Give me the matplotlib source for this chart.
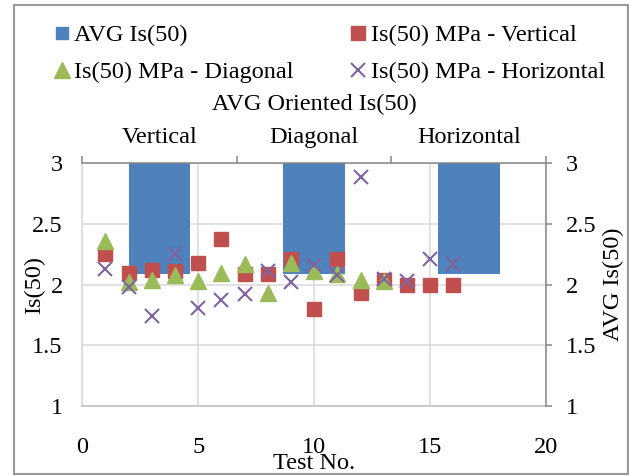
import matplotlib.pyplot as plt
from matplotlib.lines import Line2D
from matplotlib.patches import Rectangle

plt.rcParams['font.family'] = ['Liberation Serif', 'DejaVu Serif']
plt.rcParams['font.size'] = 17.5

# data
test_v = list(range(1, 17))
is50_vertical = [2.25, 2.10, 2.12, 2.11, 2.18, 2.38, 2.085, 2.085,
                 2.21, 1.80, 2.21, 1.93, 2.04, 2.00, 2.00, 2.00]
test_d = list(range(1, 14))
is50_diagonal = [2.36, 2.02, 2.04, 2.08, 2.03, 2.10, 2.17, 1.93,
                 2.18, 2.11, 2.085, 2.04, 2.03]
test_h = list(range(1, 17))
is50_horizontal = [2.13, 1.98, 1.74, 2.25, 1.81, 1.87, 1.92, 2.11,
                   2.02, 2.16, 2.08, 2.89, 2.05, 2.03, 2.21, 2.17]
orientations = ["Vertical", "Diagonal", "Horizontal"]
avg_is50 = [2.09, 2.09, 2.09]

x_ticks = [0, 5, 10, 15, 20]
y_ticks = [1, 1.5, 2, 2.5, 3]
y_ticklabels = ["1", "1.5", "2", "2.5", "3"]

BLUE = "#4F81BD"
RED = "#C0504D"
GREEN = "#9BBB59"
PURPLE = "#8064A2"
GRID = "#d9d9d9"
AXIS = "#868686"

W, H = 629, 476
fig = plt.figure(figsize=(W / 100, H / 100), dpi=100)
pos = [82.3 / W, 1 - 406 / H, (546 - 82.3) / W, (406 - 163.3) / H]

# bottom layer: primary axes with grid
ax = fig.add_axes(pos, zorder=0)
ax.set_xlim(0, 20)
ax.set_ylim(1, 3)
ax.set_xticks(x_ticks)
ax.set_yticks(y_ticks)
ax.set_yticklabels(y_ticklabels)
ax.grid(True, color=GRID, linewidth=1.1)
ax.tick_params(axis="both", length=0)
ax.tick_params(axis="x", pad=22)
ax.tick_params(axis="y", pad=14)
for s in ["top", "right"]:
    ax.spines[s].set_visible(False)
ax.spines["left"].set_color(GRID)
ax.spines["left"].set_linewidth(1.1)
ax.spines["bottom"].set_color("#bfbfbf")
ax.spines["bottom"].set_linewidth(1.1)
ax.set_xlabel("Test No.", labelpad=-3.5)
ax.set_ylabel("Is(50)")
ax.yaxis.set_label_coords(-0.081, 0.5)

# middle layer: average bars on secondary axes
axb = fig.add_axes(pos, zorder=1)
axb.patch.set_alpha(0)
axb.set_xlim(-0.5, 2.5)
axb.set_ylim(1, 3)
axb.bar(range(len(orientations)), [v - 3 for v in avg_is50], bottom=3,
        width=0.4, color=BLUE)
axb.xaxis.tick_top()
axb.xaxis.set_label_position("top")
axb.set_xticks([-0.5, 0.5, 1.5, 2.5])
axb.set_xticklabels([])
axb.set_xticks(range(len(orientations)), minor=True)
axb.set_xticklabels(orientations, minor=True)
axb.tick_params(axis="x", which="major", length=5, width=1.1, color=AXIS)
axb.tick_params(axis="x", which="minor", length=0, pad=11)
axb.set_xlabel("AVG Oriented Is(50)", labelpad=12)
axb.yaxis.tick_right()
axb.yaxis.set_label_position("right")
axb.set_yticks(y_ticks)
axb.set_yticklabels(y_ticklabels)
axb.tick_params(axis="y", length=4.3, width=1.1, color=AXIS, pad=10)
axb.set_ylabel("AVG Is(50)")
axb.yaxis.set_label_coords(1.123, 0.5)
for s in ["left", "bottom"]:
    axb.spines[s].set_visible(False)
for s in ["top", "right"]:
    axb.spines[s].set_color(AXIS)
    axb.spines[s].set_linewidth(1.1)

# top layer: individual test points
axp = fig.add_axes(pos, zorder=2)
axp.patch.set_alpha(0)
axp.set_xlim(0, 20)
axp.set_ylim(1, 3)
axp.axis("off")
axp.plot(test_v, is50_vertical, "s", color=RED, markersize=10.5, linestyle="none")
axp.plot(test_d, is50_diagonal, "^", color=GREEN, markersize=11, linestyle="none")
axp.plot(test_h, is50_horizontal, "x", color=PURPLE, markersize=10,
         markeredgewidth=1.5, linestyle="none")

handles = [
    Line2D([], [], marker="s", color=BLUE, markersize=8.6, linestyle="none"),
    Line2D([], [], marker="^", color=GREEN, markersize=11, linestyle="none"),
    Line2D([], [], marker="s", color=RED, markersize=10.5, linestyle="none"),
    Line2D([], [], marker="x", color=PURPLE, markersize=10, markeredgewidth=1.5,
           linestyle="none"),
]
labels = ["AVG Is(50)", "Is(50) MPa - Diagonal",
          "Is(50) MPa - Vertical", "Is(50) MPa - Horizontal"]
fig.legend(handles, labels, ncol=2, loc="upper left",
           bbox_to_anchor=(55 / W, 1 - 24 / H), frameon=False,
           handlelength=0.6, handletextpad=0.2, columnspacing=2.35,
           labelspacing=0.62, borderpad=0, borderaxespad=0)

# chart area border
fig.patches.append(Rectangle((14 / W, 2 / H), 614 / W, 469 / H,
                             transform=fig.transFigure, fill=False,
                             edgecolor="#999999", linewidth=1.5))

fig.savefig("out.png", dpi=100)
